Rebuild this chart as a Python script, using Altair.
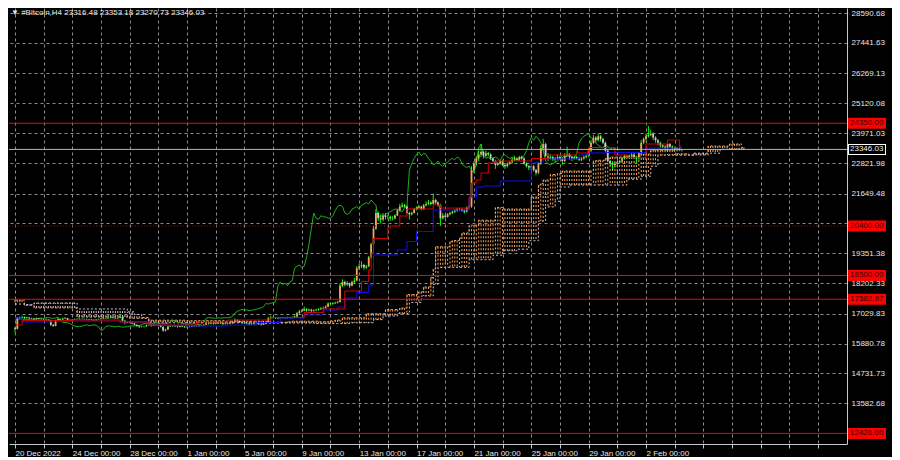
import altair as alt
import pandas as pd

# ---------------- data ----------------
first_open = 16480.0
closes = [
    16450, 16860, 16880, 16900, 16860, 16880,
    16850, 16840, 16820, 16850, 16830, 16820,
    16810, 16800, 16780, 16600, 16560, 16780,
    16820, 16800, 16840, 16860, 16790, 16780,
    16800, 16820, 16830, 16820, 16830, 16820,
    16810, 16820, 16800, 16780, 16810, 16820,
    16840, 16860, 16850, 16870, 16880, 16860,
    16850, 16870, 16900, 16760, 16690, 16700,
    16680, 16650, 16600, 16560, 16530, 16540,
    16540, 16580, 16600, 16560, 16590, 16600,
    16580, 16520, 16380, 16420, 16540, 16560,
    16550, 16540, 16520, 16550, 16530, 16510,
    16520, 16530, 16550, 16560, 16550, 16570,
    16580, 16600, 16650, 16640, 16660, 16640,
    16650, 16680, 16660, 16630, 16650, 16640,
    16660, 16720, 16780, 16750, 16700, 16680,
    16660, 16650, 16620, 16640, 16630, 16650,
    16620, 16600, 16640, 16700, 16850, 16880,
    16870, 16860, 16850, 16870, 16860, 16860,
    16880, 16870, 16890, 16920, 17050, 17120,
    17150, 17200, 17150, 17180, 17140, 17160,
    17180, 17200, 17230, 17250, 17300, 17420,
    17400, 17430, 17450, 17480, 18100, 18250,
    18150, 18200, 18100, 18250, 18300, 18780,
    18850, 18900, 18800, 18850, 19200, 19700,
    20300, 20900, 20700, 20650, 20800, 20750,
    20750, 20700, 20700, 20800, 21000, 21150,
    21200, 21150, 20900, 20850, 20900, 21050,
    21100, 21150, 21050, 21200, 21250, 21300,
    21250, 21400, 21300, 21200, 20700, 20800,
    20750, 20850, 20900, 20950, 21000, 21050,
    21050, 21000, 20950, 21100, 21150, 22550,
    22800, 23000, 23150, 23250, 23100, 23200,
    23150, 23000, 22900, 22750, 22800, 22900,
    22750, 22700, 22800, 22850, 22950, 23000,
    22950, 23050, 23000, 22800, 22700, 22650,
    22700, 22550, 22450, 22800, 23400, 23550,
    23100, 23000, 23050, 22950, 23000, 23050,
    23000, 22900, 23100, 23150, 23050, 23000,
    23050, 23000, 22950, 23000, 23050, 23100,
    23300, 23600, 23800, 23700, 23850, 23750,
    23600, 23300, 22900, 22800, 22750, 22800,
    22850, 22900, 23000, 23100, 23050, 23100,
    23150, 23050, 23000, 23200, 23600, 23750,
    23850, 23900, 23950, 23800, 23700, 23600,
    23500, 23450, 23400, 23550, 23450, 23400,
    23350, 23400, 23316.48, 23346.03,
]
highs = [
    16520, 16900, 16920, 16950, 16920, 16910,
    16900, 16880, 16870, 16880, 16870, 16850,
    16850, 16840, 16820, 16800, 16640, 16800,
    16860, 16850, 16880, 16900, 16870, 16820,
    16820, 16840, 16850, 16845, 16850, 16840,
    16840, 16840, 16830, 16810, 16830, 16840,
    16860, 16890, 16880, 16900, 16920, 16900,
    16880, 16890, 16950, 16920, 16780, 16730,
    16730, 16710, 16680, 16620, 16590, 16570,
    16570, 16610, 16640, 16620, 16620, 16640,
    16620, 16600, 16540, 16450, 16570, 16590,
    16590, 16570, 16560, 16570, 16570, 16550,
    16540, 16550, 16570, 16580, 16580, 16590,
    16600, 16630, 16700, 16690, 16700, 16680,
    16680, 16720, 16700, 16680, 16680, 16670,
    16680, 16760, 16850, 16820, 16770, 16730,
    16700, 16690, 16680, 16670, 16670, 16680,
    16670, 16650, 16670, 16740, 16900, 16950,
    16920, 16900, 16890, 16900, 16900, 16890,
    16910, 16910, 16920, 16960, 17100, 17180,
    17200, 17300, 17240, 17230, 17220, 17200,
    17220, 17240, 17280, 17300, 17350, 17460,
    17460, 17470, 17490, 17520, 18200, 18350,
    18300, 18280, 18230, 18300, 18400, 18850,
    18950, 19050, 18950, 18900, 19250, 19750,
    20400, 21050, 20950, 20850, 20900, 20900,
    20850, 20800, 20780, 20850, 21050, 21250,
    21300, 21250, 21200, 20950, 20950, 21100,
    21150, 21220, 21180, 21250, 21350, 21400,
    21350, 21650, 21450, 21350, 21250, 20900,
    20850, 20900, 20950, 21000, 21060, 21100,
    21100, 21080, 21050, 21150, 21200, 22700,
    22900, 23100, 23300, 23550, 23300, 23300,
    23250, 23200, 23050, 22950, 22850, 22950,
    22950, 22800, 22850, 22900, 23050, 23100,
    23050, 23100, 23100, 23050, 22850, 22750,
    22750, 22750, 22600, 22850, 23500, 23750,
    23600, 23200, 23150, 23100, 23050, 23150,
    23100, 23050, 23200, 23450, 23200, 23100,
    23100, 23100, 23050, 23050, 23100, 23150,
    23350, 23700, 23900, 23850, 23950, 23900,
    23800, 23650, 23350, 22950, 22900, 22850,
    22900, 22950, 23050, 23150, 23150, 23150,
    23200, 23200, 23100, 23250, 23700, 23800,
    23950, 24250, 24100, 24000, 23850, 23750,
    23650, 23550, 23500, 23600, 23600, 23500,
    23450, 23430, 23420, 23353.18,
]
lows = [
    16300, 16420, 16820, 16850, 16830, 16840,
    16820, 16810, 16790, 16800, 16800, 16790,
    16780, 16770, 16740, 16560, 16520, 16540,
    16760, 16780, 16790, 16820, 16770, 16750,
    16770, 16790, 16810, 16800, 16810, 16800,
    16790, 16790, 16780, 16740, 16760, 16790,
    16800, 16820, 16830, 16830, 16850, 16840,
    16820, 16830, 16860, 16720, 16620, 16660,
    16660, 16620, 16570, 16520, 16480, 16500,
    16500, 16520, 16560, 16530, 16550, 16570,
    16560, 16500, 16330, 16340, 16400, 16520,
    16530, 16520, 16490, 16500, 16510, 16480,
    16490, 16500, 16520, 16530, 16530, 16540,
    16550, 16560, 16590, 16610, 16620, 16610,
    16610, 16630, 16630, 16590, 16610, 16610,
    16620, 16640, 16700, 16720, 16680, 16650,
    16640, 16620, 16590, 16600, 16600, 16610,
    16600, 16570, 16590, 16620, 16680, 16820,
    16840, 16830, 16820, 16830, 16840, 16830,
    16840, 16850, 16850, 16870, 16900, 17020,
    17080, 17120, 17100, 17120, 17060, 17100,
    17120, 17140, 17170, 17200, 17220, 17280,
    17350, 17370, 17400, 17420, 17460, 18050,
    18080, 18100, 18020, 18080, 18200, 18280,
    18700, 18780, 18720, 18750, 18820, 19150,
    19650, 20250, 20600, 20500, 20580, 20650,
    20650, 20600, 20620, 20650, 20780, 20950,
    21100, 21100, 20850, 20650, 20800, 20880,
    21000, 21050, 21000, 21020, 21150, 21200,
    21200, 21220, 21250, 21150, 20400, 20650,
    20680, 20720, 20800, 20850, 20900, 20950,
    20980, 20950, 20880, 20920, 21050, 21100,
    22450, 22700, 22900, 23050, 23000, 23050,
    23080, 22950, 22850, 22600, 22700, 22750,
    22700, 22600, 22650, 22750, 22800, 22900,
    22900, 22900, 22950, 22750, 22650, 22550,
    22550, 22500, 22350, 22400, 22750, 23300,
    23050, 22900, 22950, 22900, 22850, 22950,
    22950, 22750, 22850, 23050, 22950, 22900,
    22950, 22950, 22900, 22900, 22950, 23000,
    23050, 23250, 23550, 23600, 23650, 23650,
    23550, 23250, 22850, 22700, 22550, 22650,
    22700, 22800, 22850, 22950, 23000, 23000,
    23050, 23000, 22800, 22950, 23150, 23550,
    23650, 23800, 23850, 23700, 23600, 23500,
    23400, 23380, 23300, 23350, 23400, 23350,
    23300, 23320, 23280, 23270.73,
]

# Ichimoku lines, read as steps: value holds from the given bar on
tenkan_bars = [0, 3, 24, 44, 56, 76, 89, 107, 121, 129, 138, 145, 148, 149,
               150, 156, 157, 161, 164, 175, 178, 190, 191, 193, 195, 198, 201, 216, 223, 235, 240,
               251, 256, 264, 273, 278]
tenkan_vals = [16590, 16770, 16786, 16710, 16590, 16710, 16786, 16880, 17075, 17210, 17900, 18270,
               18710, 19360, 19920, 20325, 20400, 20785, 21055, 21210, 21090, 21515, 22054, 22170, 22440,
               22823, 22900, 22996, 23130, 23208, 23420, 23130, 23035, 23553, 23707, 23438]
kijun_bars = [0, 3, 15, 44, 56, 72, 89, 101, 111, 121, 129, 135, 138, 143, 148, 150, 160, 164, 168, 175,
              190, 193, 196, 203, 216, 218, 221, 236, 240, 247, 264]
kijun_vals = [16860, 16710, 16740, 16710, 16590, 16555, 16590, 16690, 16863, 16979, 17171, 17286, 17632,
              17843, 18132, 19286, 19478, 19805, 20190, 21016, 21515, 21900, 21940, 22130, 22823, 22860,
              22977, 23130, 23208, 23227, 23400]
spanA_bars = [0, 4, 8, 26, 48, 56, 72, 88, 107, 114, 116, 127, 132, 134, 137, 147, 155, 161, 164, 169,
              171, 174, 175, 176, 182, 183, 186, 187, 190, 194, 201, 204, 216, 219, 220, 221, 224, 227,
              229, 242, 244, 247, 249, 261, 262, 266, 273, 277, 282, 290, 299, 304]
spanA_vals = [17550, 17350, 17250, 16900, 16850, 16780, 16760, 16740, 16700, 16720, 16740, 16720, 16750,
              16785, 16871, 17027, 17190, 17248, 17766, 17871, 18056, 18421, 18746, 19603, 19805, 19843,
              19939, 20131, 20430, 20622, 21113, 21053, 21515, 21977, 22035, 22170, 22380, 22420, 22515,
              22910, 22928, 22987, 23053, 23092, 23169, 23314, 23323, 23178, 23131, 23476, 23553, 23419]
spanB_bars = [0, 4, 8, 26, 47, 50, 53, 56, 63, 100, 126, 140, 150, 154, 160, 165, 170, 175, 177, 190,
              200, 204, 210, 215, 219, 222, 226, 228, 232, 256, 262, 266, 269, 284, 295]
spanB_vals = [17400, 17380, 17440, 17210, 17100, 17000, 16880, 16700, 16680, 16670, 16650, 16680, 16800,
              16940, 17030, 17460, 17710, 18160, 18810, 19105, 19275, 19450, 19510, 19835, 20590, 21135,
              21350, 21900, 21975, 22200, 22315, 22700, 23125, 23200, 23350]
cloud_last_bar = 305
chikou_shift = 26

level_prices = [24350.00, 20400.00, 18500.00, 17582.97, 12426.00]
level_labels = ["24350.00", "20400.00", "18500.00", "17582.97", "12426.00"]
level_dotted = [False, True, False, False, False]
last_price = 23346.03
last_label = "23346.03"

y_ticks = [13582.68, 14731.73, 15880.78, 17029.83, 18202.33, 19351.38, 20500.43, 21649.48,
           22821.98, 23971.03, 25120.08, 26269.13, 27441.63, 28590.68]
x_labels = ["20 Dec 2022", "24 Dec 00:00", "28 Dec 00:00", "1 Jan 00:00", "5 Jan 00:00", "9 Jan 00:00",
            "13 Jan 00:00", "17 Jan 00:00", "21 Jan 00:00", "25 Jan 00:00", "29 Jan 00:00", "2 Feb 00:00"]
title_text = "\u25BC  #Bitcoin,H4  23316.48 23353.18 23270.73 23346.03"

# ---------------- tables ----------------
n = len(closes)
opens = [first_open] + closes[:-1]
candles = pd.DataFrame({"bar": list(range(n)), "open": opens, "high": highs, "low": lows, "close": closes})
candles["dir"] = ["up" if c >= o else "down" for o, c in zip(opens, closes)]


def expand(bars, vals, last):
    rows = []
    for i, (b, v) in enumerate(zip(bars, vals)):
        nb = bars[i + 1] if i + 1 < len(bars) else last + 1
        for k in range(b, nb):
            rows.append((k, v))
    return pd.DataFrame(rows, columns=["bar", "v"])


tenkan = expand(tenkan_bars, tenkan_vals, n - 1)
kijun = expand(kijun_bars, kijun_vals, n - 1)
sa = expand(spanA_bars, spanA_vals, cloud_last_bar)
sb = expand(spanB_bars, spanB_vals, cloud_last_bar)
cloud = pd.DataFrame({"bar": sa["bar"], "a": sa["v"], "b": sb["v"]})
cloud["kind"] = ["up" if a >= b else "down" for a, b in zip(cloud["a"], cloud["b"])]
chikou = pd.DataFrame({"bar": list(range(n - chikou_shift)), "v": closes[chikou_shift:]})
levels = pd.DataFrame({"p": level_prices, "lab": level_labels, "dot": level_dotted})
lastdf = pd.DataFrame({"p": [last_price], "lab": [last_label]})

W = 838
H = 436
FONT = "Liberation Sans"
xs = alt.Scale(domain=[-0.4, 346.0], nice=False, zero=False)
ys = alt.Scale(domain=[12018, 28783], nice=False, zero=False)

label_arr = "[" + ",".join("'" + s + "'" for s in x_labels) + "]"
last_lab_bar = 24 * (len(x_labels) - 1)
x_expr = f"(datum.value % 24 == 0 && datum.value <= {last_lab_bar}) ? {label_arr}[datum.value / 24] : ''"

XAX = alt.Axis(
    values=list(range(0, 346, 12)), labelExpr=x_expr, title=None, grid=True,
    gridColor="#8c8c8c", gridDash=[3, 3], gridWidth=1, domain=True, domainColor="#c8c8c8",
    ticks=True, tickColor="#c8c8c8", tickSize=4, labelAlign="left", labelBaseline="top",
    labelPadding=1, labelColor="#e6e6e6", labelFont=FONT, labelFontSize=8,
    labelOverlap=False, labelFlush=False)
YAX = alt.Axis(values=y_ticks, title=None, orient="right", grid=True, gridColor="#8c8c8c",
               gridDash=[3, 3], gridWidth=1, domain=True, domainColor="#c8c8c8", ticks=False,
               labelPadding=4, labelAlign="left", labelColor="#e6e6e6", labelFont=FONT,
               labelFontSize=8, labelOverlap=False, labelFlush=False, labelBound=False,
               labelExpr="datum.value == 20500.43 ? '' : format(datum.value, '.2f')")


def qx(field):
    return alt.X(field, scale=xs, axis=XAX)


def qy(field):
    return alt.Y(field, scale=ys, axis=YAX)


hatch = alt.Chart(cloud).mark_rule(strokeWidth=1, strokeDash=[2, 2]).encode(
    x=qx("bar:Q"), y=qy("a:Q"), y2="b:Q",
    color=alt.Color("kind:N", scale=alt.Scale(domain=["up", "down"], range=["#f4a460", "#d8bfd8"]),
                    legend=None))
lineA = alt.Chart(cloud).mark_line(interpolate="step-after", strokeWidth=1, strokeDash=[2, 2],
                                   color="#f4a460").encode(x=qx("bar:Q"), y=qy("a:Q"))
lineB = alt.Chart(cloud).mark_line(interpolate="step-after", strokeWidth=1, strokeDash=[2, 2],
                                   color="#d8bfd8").encode(x=qx("bar:Q"), y=qy("b:Q"))

wick = alt.Chart(candles).mark_rule(strokeWidth=1, color="#00ff00").encode(
    x=qx("bar:Q"), y=qy("low:Q"), y2="high:Q")
body = alt.Chart(candles).mark_bar(width=1.8).encode(
    x=qx("bar:Q"), y=qy("open:Q"), y2="close:Q",
    color=alt.Color("dir:N", scale=alt.Scale(domain=["up", "down"], range=["#00ff00", "#00b000"]),
                    legend=None))

chik = alt.Chart(chikou).mark_line(strokeWidth=1, color="#1fae1f").encode(x=qx("bar:Q"), y=qy("v:Q"))
kij = alt.Chart(kijun).mark_line(interpolate="step-after", strokeWidth=1, color="#1010ff").encode(
    x=qx("bar:Q"), y=qy("v:Q"))
ten = alt.Chart(tenkan).mark_line(interpolate="step-after", strokeWidth=1, color="#e00000").encode(
    x=qx("bar:Q"), y=qy("v:Q"))

lvl_solid = alt.Chart(levels[~levels["dot"]]).mark_rule(color="#ff0000", strokeWidth=1).encode(y=qy("p:Q"))
lvl_dot = alt.Chart(levels[levels["dot"]]).mark_rule(color="#b00000", strokeWidth=1,
                                                     strokeDash=[1, 2]).encode(y=qy("p:Q"))
last_line = alt.Chart(lastdf).mark_rule(color="#b4b4b4", strokeWidth=1).encode(y=qy("p:Q"))

lvl_box = alt.Chart(levels).mark_rule(color="#ff0000", strokeWidth=11, strokeCap="butt").encode(
    x=alt.value(W + 1), x2=alt.value(W + 39), y=qy("p:Q"))
lvl_txt = alt.Chart(levels).mark_text(align="left", baseline="middle", font=FONT, fontSize=8,
                                      color="#3a0000").encode(x=alt.value(W + 3), y=qy("p:Q"), text="lab:N")
last_box = alt.Chart(lastdf).mark_rule(color="#ffffff", strokeWidth=11, strokeCap="butt").encode(
    x=alt.value(W + 1), x2=alt.value(W + 39), y=qy("p:Q"))
last_inner = alt.Chart(lastdf).mark_rule(color="#000000", strokeWidth=9, strokeCap="butt").encode(
    x=alt.value(W + 2), x2=alt.value(W + 38), y=qy("p:Q"))
last_txt = alt.Chart(lastdf).mark_text(align="left", baseline="middle", font=FONT, fontSize=8,
                                       color="#f0f0f0").encode(x=alt.value(W + 3), y=qy("p:Q"), text="lab:N")

title = alt.Chart(pd.DataFrame({"t": [title_text]})).mark_text(
    align="left", baseline="top", font=FONT, fontSize=8, color="#e6e6e6").encode(
    x=alt.value(2), y=alt.value(1), text="t:N")

chart = alt.layer(
    hatch, lineA, lineB, chik, wick, body, kij, ten,
    lvl_solid, lvl_dot, last_line, lvl_box, lvl_txt, last_box, last_inner, last_txt, title
).properties(width=W, height=H, padding=0, background="#000000").configure_view(
    stroke=None).configure_axis(labelOverlap=False)

chart.save("out.html", embed_options={"renderer": "svg", "actions": False})
